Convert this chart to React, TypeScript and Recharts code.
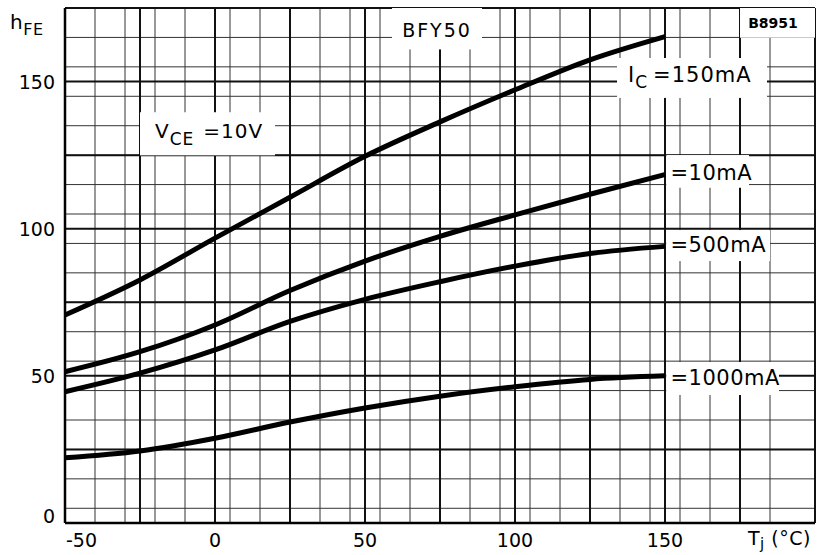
import {
  LineChart,
  Line,
  CartesianGrid,
  XAxis,
  YAxis,
  ReferenceArea,
  ReferenceLine,
} from "recharts";

// junction temperature (°C)
const temps = [-50, -25, 0, 25, 50, 75, 100, 125, 150];

// hFE, one list per collector current
const hfe150mA = [70.7, 82.6, 96.8, 110.7, 124.6, 136.3, 147.2, 157.4, 165.3];
const hfe10mA = [51.4, 58.2, 67.3, 79.0, 89.0, 97.4, 104.7, 111.7, 118.4];
const hfe500mA = [44.6, 50.9, 58.8, 68.5, 76.0, 82.0, 87.3, 91.6, 94.0];
const hfe1000mA = [22.2, 24.5, 28.8, 34.3, 39.1, 43.1, 46.3, 48.8, 50.0];

const xTicks = [-50, 0, 50, 100, 150];
const yTicks = [0, 50, 100, 150];
const xDomain = [-50, 200];
const yDomain = [0, 175];

// graph paper: fine lines every 5, heavier every 25
const xGrid: number[] = [];
for (let v = xDomain[0]; v <= xDomain[1]; v += 5) xGrid.push(v);
const yGrid: number[] = [];
for (let v = yDomain[0]; v <= yDomain[1]; v += 5) yGrid.push(v);
const xMajor = xGrid.filter((v) => v % 25 === 0);
const yMajor = yGrid.filter((v) => v % 25 === 0);

const chartData = temps.map((t, i) => ({
  t,
  ic150: hfe150mA[i],
  ic10: hfe10mA[i],
  ic500: hfe500mA[i],
  ic1000: hfe1000mA[i],
}));

const FONT = "DejaVu Sans";

const XTick = ({ x, y, payload }: any) => {
  const first = payload.value === -50;
  return (
    <text
      x={first ? x + 1 : x}
      y={y + 16}
      textAnchor={first ? "start" : "middle"}
      fontFamily={FONT}
      fontSize={19}
      fill="#000"
    >
      {payload.value}
    </text>
  );
};

const YTick = ({ x, y, payload }: any) => (
  <text
    x={x - 2}
    y={payload.value === 0 ? y : y + 7}
    textAnchor="end"
    fontFamily={FONT}
    fontSize={19}
    fill="#000"
  >
    {payload.value}
  </text>
);

// text on a white patch the size of the area, baseline offset from its top
const boxText =
  (dx: number, dy: number, body: any, anchor = "start", size = 21, weight = "normal", spacing = 0.5, patch = true) =>
  (props: any) => {
    const vb = props.viewBox;
    return (
      <g>
        {patch && (
          <rect x={vb.x} y={vb.y} width={vb.width} height={vb.height} fill="#fff" />
        )}
        <text
          x={vb.x + dx}
          y={vb.y + dy}
          textAnchor={anchor}
          fontFamily={FONT}
          fontSize={size}
          fontWeight={weight}
          letterSpacing={spacing}
          fill="#000"
        >
          {body}
        </text>
      </g>
    );
  };

const boxProps = { fill: "#fff", fillOpacity: 1, stroke: "none" } as any;
const underAreas = { zIndex: -50 } as any;

const App = () => {
  return (
    <div style={{ position: "absolute", left: 0, top: 0, background: "#fff" }}>
      <LineChart
        width={818}
        height={555}
        data={chartData}
        margin={{ top: 8, right: 3, left: 0, bottom: 0 }}
      >
        <CartesianGrid
          horizontalValues={yGrid}
          verticalValues={xGrid}
          stroke="#333"
          strokeWidth={1}
        />
        {xMajor.map((v) => (
          <ReferenceLine key={`vx${v}`} x={v} stroke="#111" strokeWidth={2} {...underAreas} />
        ))}
        {yMajor.map((v) => (
          <ReferenceLine key={`hy${v}`} y={v} stroke="#111" strokeWidth={2} {...underAreas} />
        ))}
        <XAxis
          dataKey="t"
          type="number"
          domain={xDomain}
          ticks={xTicks}
          height={32}
          tickLine={false}
          axisLine={{ stroke: "#000", strokeWidth: 2.5 }}
          tick={<XTick />}
          label={boxText(683, 22, (
            <>
              <tspan>T</tspan>
              <tspan fontSize={15} dy={4}>j</tspan>
              <tspan dy={-4}> (°C)</tspan>
            </>
          ), "start", 19, "normal", 0.5, false)}
        />
        <YAxis
          type="number"
          domain={yDomain}
          ticks={yTicks}
          width={65}
          tickLine={false}
          axisLine={{ stroke: "#000", strokeWidth: 2.5 }}
          tick={<YTick />}
          label={boxText(10, 21, (
            <>
              <tspan>h</tspan>
              <tspan fontSize={16} dy={6}>FE</tspan>
            </>
          ), "start", 20, "normal", 0.5, false)}
        />

        <ReferenceArea
          x1={59}
          x2={89}
          y1={161}
          y2={175}
          {...boxProps}
          label={boxText(45, 29, "BFY50", "middle", 19, "normal", 2)}
        />
        <ReferenceArea
          x1={175}
          x2={200}
          y1={165}
          y2={175}
          {...boxProps}
          label={boxText(33, 20, "B8951", "middle", 14, "bold", 0)}
        />
        <ReferenceArea
          x1={134}
          x2={184}
          y1={144.5}
          y2={158}
          {...boxProps}
          label={boxText(11, 24, (
            <>
              <tspan>I</tspan>
              <tspan fontSize={17} dy={6}>C</tspan>
              <tspan dy={-6} dx={5}>=150mA</tspan>
            </>
          ), "start", 21, "normal", 1)}
        />
        <ReferenceArea
          x1={-25}
          x2={20}
          y1={125}
          y2={139.5}
          {...boxProps}
          label={boxText(15, 26, (
            <>
              <tspan>V</tspan>
              <tspan fontSize={17} dy={7}>CE</tspan>
              <tspan dy={-7} dx={9}>=10V</tspan>
            </>
          ), "start", 20, "normal", 1)}
        />
        <ReferenceArea
          x1={150.5}
          x2={178}
          y1={114}
          y2={125}
          {...boxProps}
          label={boxText(4, 25, "=10mA")}
        />
        <ReferenceArea
          x1={150.5}
          x2={185}
          y1={89}
          y2={99.5}
          {...boxProps}
          label={boxText(4, 22, "=500mA")}
        />
        <ReferenceArea
          x1={150.5}
          x2={188}
          y1={43.5}
          y2={54.7}
          {...boxProps}
          label={boxText(4, 23, "=1000mA")}
        />

        <Line type="monotone" dataKey="ic150" stroke="#000" strokeWidth={5} dot={false} isAnimationActive={false} />
        <Line type="monotone" dataKey="ic10" stroke="#000" strokeWidth={5} dot={false} isAnimationActive={false} />
        <Line type="monotone" dataKey="ic500" stroke="#000" strokeWidth={5} dot={false} isAnimationActive={false} />
        <Line type="monotone" dataKey="ic1000" stroke="#000" strokeWidth={5} dot={false} isAnimationActive={false} />
      </LineChart>
    </div>
  );
};

export default App;
